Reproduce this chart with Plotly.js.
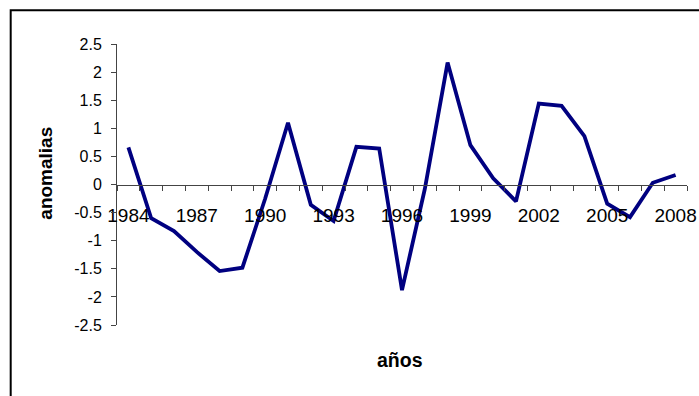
<!DOCTYPE html>
<html>
<head>
<meta charset="utf-8">
<script src="https://cdn.plot.ly/plotly-3.0.1.min.js"></script>
<style>
  html, body { margin: 0; padding: 0; background: #ffffff; }
  #chart { width: 699px; height: 396px; }
</style>
</head>
<body>
<div id="chart"></div>
<script>
// Annual anomalies, 1984-2008
const years = [1984, 1985, 1986, 1987, 1988, 1989, 1990, 1991, 1992, 1993,
               1994, 1995, 1996, 1997, 1998, 1999, 2000, 2001, 2002, 2003,
               2004, 2005, 2006, 2007, 2008];
const anomalias = [0.66, -0.60, -0.83, -1.20, -1.54, -1.48, -0.25, 1.10, -0.36, -0.65,
                   0.67, 0.64, -1.88, -0.08, 2.17, 0.70, 0.11, -0.30, 1.44, 1.40,
                   0.86, -0.34, -0.58, 0.03, 0.17];

// Axis labels
const xTickYears = [1984, 1987, 1990, 1993, 1996, 1999, 2002, 2005, 2008];
const yTickVals = [-2.5, -2, -1.5, -1, -0.5, 0, 0.5, 1, 1.5, 2, 2.5];
const yTickText = ['-2.5', '-2', '-1.5', '-1', '-0.5', '0', '0.5', '1', '1.5', '2', '2.5'];
const xTitle = 'años';
const yTitle = 'anomalias';

const FONT = 'Liberation Sans, Arial, sans-serif';
const AXIS_COLOR = '#444444';

const trace = {
  x: years,
  y: anomalias,
  type: 'scatter',
  mode: 'lines',
  line: { color: '#000080', width: 3.8 },
  hoverinfo: 'x+y'
};

const layout = {
  width: 699,
  height: 396,
  margin: { l: 117, r: 12, t: 44, b: 71 },
  paper_bgcolor: '#ffffff',
  plot_bgcolor: '#ffffff',
  showlegend: false,
  font: { family: FONT, color: '#000000' },
  xaxis: {
    range: [years[0] - 0.5, years[years.length - 1] + 0.5],
    anchor: 'free',
    position: 0.5,           // axis line crosses at y = 0
    showgrid: false,
    zeroline: false,
    showline: true,
    linecolor: AXIS_COLOR,
    linewidth: 1,
    tickmode: 'array',
    tickvals: xTickYears,
    ticktext: xTickYears.map(String),
    ticks: 'outside',
    ticklen: 14,
    tickcolor: 'rgba(0,0,0,0)',
    tickfont: { family: FONT, size: 19, color: '#000000' },
    minor: {
      tickmode: 'linear',
      tick0: years[0] - 0.5,
      dtick: 1,
      ticks: 'outside',
      ticklen: 5,
      tickwidth: 1,
      tickcolor: AXIS_COLOR,
      showgrid: false
    }
  },
  yaxis: {
    range: [-2.5, 2.5],
    showgrid: false,
    zeroline: false,
    showline: true,
    linecolor: AXIS_COLOR,
    linewidth: 1,
    tickmode: 'array',
    tickvals: yTickVals,
    ticktext: yTickText,
    ticks: 'outside',
    ticklen: 5,
    tickwidth: 1,
    tickcolor: AXIS_COLOR,
    ticklabelstandoff: 6,
    tickfont: { family: FONT, size: 16, color: '#000000' }
  },
  annotations: [
    {
      text: '<b>' + xTitle + '</b>',
      xref: 'paper', yref: 'paper',
      x: 0.497, y: -0.125,
      xanchor: 'center', yanchor: 'middle',
      showarrow: false,
      font: { family: FONT, size: 19.5, color: '#000000' }
    },
    {
      text: '<b>' + yTitle + '</b>',
      xref: 'paper', yref: 'paper',
      x: -0.1246, y: 0.542,
      xanchor: 'center', yanchor: 'middle',
      textangle: -90,
      showarrow: false,
      font: { family: FONT, size: 19, color: '#000000' }
    }
  ],
  shapes: [
    {
      type: 'rect',
      xref: 'paper', yref: 'paper',
      x0: -0.1865, x1: 1.2,
      y0: -0.8, y1: 1.1205,
      line: { color: '#000000', width: 2 },
      fillcolor: 'rgba(0,0,0,0)',
      layer: 'above'
    }
  ]
};

Plotly.newPlot('chart', [trace], layout, { staticPlot: true, displayModeBar: false });
</script>
</body>
</html>
